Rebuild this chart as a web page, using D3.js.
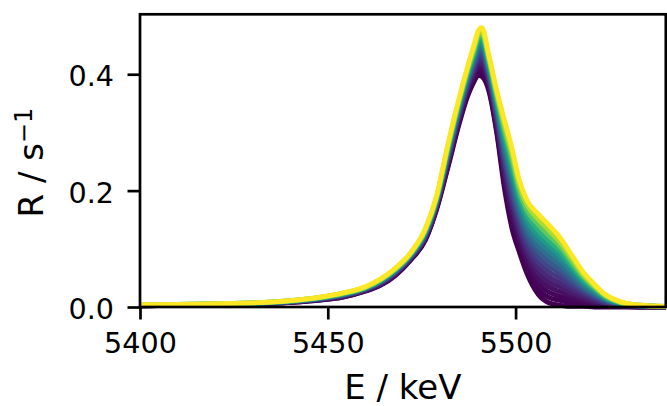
<!DOCTYPE html>
<html>
<head>
<meta charset="utf-8">
<script src="https://cdn.jsdelivr.net/npm/d3@7"></script>
<style>
  html, body { margin: 0; padding: 0; background: #fff; }
  svg { display: block; }
</style>
</head>
<body>
<div id="chart"></div>
<script>
// Energy grid (keV) shared by every spectrum
const energy = [5400, 5415, 5430, 5440, 5448, 5454, 5460, 5464, 5468, 5472,
                5476, 5479, 5482, 5485, 5487, 5489, 5490, 5491, 5493, 5495,
                5497, 5499, 5501, 5503, 5506, 5509, 5512, 5515, 5518, 5521,
                5524, 5528, 5533, 5540];

// Colour parameter of each spectrum (0 = first, 1 = last)
const shade = [0, 0.004, 0.018, 0.04, 0.071, 0.111, 0.16, 0.218,
               0.284, 0.36, 0.444, 0.538, 0.64, 0.751, 0.871, 1];

// Count rates R (1/s) on the energy grid, one array per spectrum
const s00 = [.002,.003,.005,.008,.012,.017,.027,.037,.054,.080,.115,.168,.240,.315,.358,.388,.398,.396,.368,.298,.205,.136,.094,.058,.022,.007,.003,.001,.001,0,0,0,0,0];
const s01 = [.002,.003,.005,.008,.012,.017,.028,.038,.055,.081,.116,.170,.243,.318,.361,.392,.403,.402,.372,.303,.213,.145,.102,.066,.031,.016,.011,.007,.005,.003,.001,.001,0,0];
const s02 = [.002,.003,.005,.008,.013,.018,.028,.038,.056,.082,.118,.171,.245,.321,.365,.397,.408,.407,.376,.308,.221,.154,.111,.075,.040,.025,.018,.013,.009,.005,.003,.001,0,0];
const s03 = [.002,.003,.005,.009,.013,.018,.029,.039,.057,.083,.119,.173,.248,.324,.368,.401,.413,.413,.380,.313,.228,.164,.119,.083,.050,.034,.026,.019,.013,.008,.004,.002,.001,0];
const s04 = [.003,.004,.006,.009,.013,.019,.029,.040,.057,.083,.120,.174,.251,.327,.371,.405,.418,.418,.385,.318,.236,.173,.127,.092,.059,.042,.034,.024,.017,.010,.006,.002,.001,0];
const s05 = [.003,.004,.006,.009,.014,.019,.030,.041,.058,.084,.122,.176,.253,.330,.375,.409,.423,.424,.389,.323,.244,.182,.135,.100,.068,.051,.041,.030,.021,.013,.007,.003,.001,0];
const s06 = [.003,.004,.006,.009,.014,.020,.030,.041,.059,.085,.123,.178,.256,.333,.378,.414,.428,.430,.393,.328,.252,.191,.144,.108,.077,.060,.049,.036,.025,.016,.008,.004,.001,0];
const s07 = [.003,.004,.006,.009,.014,.020,.031,.042,.060,.086,.124,.179,.259,.336,.381,.418,.433,.435,.397,.333,.260,.200,.152,.117,.086,.069,.057,.042,.029,.018,.010,.004,.001,0];
const s08 = [.003,.004,.006,.010,.015,.021,.031,.043,.061,.087,.126,.181,.261,.339,.385,.422,.439,.441,.401,.337,.267,.210,.160,.125,.096,.078,.064,.048,.032,.021,.011,.005,.002,.001];
const s09 = [.003,.004,.006,.010,.015,.021,.032,.044,.062,.088,.127,.182,.264,.342,.388,.426,.444,.446,.405,.342,.275,.219,.168,.134,.105,.087,.072,.054,.036,.023,.013,.005,.002,.001];
const s10 = [.003,.004,.006,.010,.015,.022,.032,.044,.063,.089,.128,.184,.267,.345,.391,.431,.449,.452,.409,.347,.283,.228,.177,.142,.114,.096,.080,.060,.040,.026,.014,.006,.002,.001];
const s11 = [.003,.004,.006,.010,.016,.022,.033,.045,.064,.090,.130,.186,.269,.348,.395,.435,.454,.458,.413,.352,.291,.237,.185,.150,.123,.105,.087,.066,.044,.029,.015,.007,.002,.001];
const s12 = [.004,.005,.007,.010,.016,.023,.033,.046,.064,.090,.131,.187,.272,.351,.398,.439,.459,.463,.418,.357,.299,.246,.193,.159,.132,.113,.095,.071,.048,.031,.017,.007,.002,.001];
const s13 = [.004,.005,.007,.011,.016,.023,.034,.047,.065,.091,.132,.189,.275,.354,.401,.443,.464,.469,.422,.362,.306,.256,.201,.167,.142,.122,.103,.077,.052,.034,.018,.008,.003,.001];
const s14 = [.004,.005,.007,.011,.017,.024,.034,.047,.066,.092,.134,.190,.277,.357,.405,.448,.469,.474,.426,.367,.314,.265,.210,.176,.151,.131,.110,.083,.056,.036,.020,.008,.003,.001];
const s15 = [.004,.005,.007,.011,.017,.024,.035,.048,.067,.093,.135,.192,.280,.360,.408,.452,.474,.480,.430,.372,.322,.274,.218,.184,.160,.140,.118,.089,.060,.039,.021,.009,.003,.001];

const spectra = [s00, s01, s02, s03, s04, s05, s06, s07,
                 s08, s09, s10, s11, s12, s13, s14, s15];

const xDomain = [5400, 5540];
const yDomain = [0, 0.503];
const xTicks = [5400, 5450, 5500];
const yTicks = [0.0, 0.2, 0.4];

const W = 667, H = 406;
const plot = { left: 140, right: 665.8, top: 14.3, bottom: 307 };
const FONT = "'DejaVu Sans', sans-serif";
const spineW = 2.7, tickLen = 12.5;

const x = d3.scaleLinear().domain(xDomain).range([plot.left, plot.right]);
const y = d3.scaleLinear().domain(yDomain).range([plot.bottom, plot.top]);

const svg = d3.select('#chart').append('svg')
  .attr('width', W).attr('height', H)
  .attr('viewBox', `0 0 ${W} ${H}`);

svg.append('rect').attr('width', W).attr('height', H).attr('fill', '#fff');

// spectra, first to last, so the last one sits on top
const line = d3.line()
  .x((d, i) => x(energy[i]))
  .y(d => y(d))
  .curve(d3.curveMonotoneX);

svg.append('g')
  .selectAll('path')
  .data(spectra)
  .join('path')
  .attr('d', line)
  .attr('fill', 'none')
  .attr('stroke', (d, i) => d3.interpolateViridis(shade[i]))
  .attr('stroke-width', 4.8)
  .attr('stroke-linejoin', 'round')
  .attr('stroke-linecap', 'butt');

// axes
function styleAxis(g) {
  g.select('.domain').remove();
  g.selectAll('.tick line').attr('stroke', '#000').attr('stroke-width', spineW);
  g.selectAll('.tick text')
    .attr('fill', '#000')
    .style('font-family', FONT)
    .style('font-size', '28.6px');
}

svg.append('g')
  .attr('transform', `translate(0,${plot.bottom})`)
  .call(d3.axisBottom(x).tickValues(xTicks).tickFormat(d3.format('d'))
        .tickSize(tickLen).tickPadding(13.2))
  .call(styleAxis);

svg.append('g')
  .attr('transform', `translate(${plot.left},0)`)
  .call(d3.axisLeft(y).tickValues(yTicks).tickFormat(d3.format('.1f'))
        .tickSize(tickLen).tickPadding(13.5))
  .call(styleAxis)
  .call(g => g.selectAll('.tick text').attr('dy', '0.4em'));

// frame
svg.append('rect')
  .attr('x', plot.left).attr('y', plot.top)
  .attr('width', plot.right - plot.left)
  .attr('height', plot.bottom - plot.top)
  .attr('fill', 'none')
  .attr('stroke', '#000')
  .attr('stroke-width', spineW);

// axis titles
svg.append('text')
  .attr('x', (plot.left + plot.right) / 2)
  .attr('y', 399)
  .attr('text-anchor', 'middle')
  .style('font-family', FONT)
  .style('font-size', '34px')
  .attr('fill', '#000')
  .text('E / keV');

const yTitle = svg.append('text')
  .attr('transform', `translate(43,${(plot.top + plot.bottom) / 2 + 2}) rotate(-90)`)
  .attr('text-anchor', 'middle')
  .style('font-family', FONT)
  .style('font-size', '34px')
  .attr('fill', '#000');
yTitle.append('tspan').text('R / s');
yTitle.append('tspan').attr('dy', -11.5).style('font-size', '24px').text('\u22121');
</script>
</body>
</html>
